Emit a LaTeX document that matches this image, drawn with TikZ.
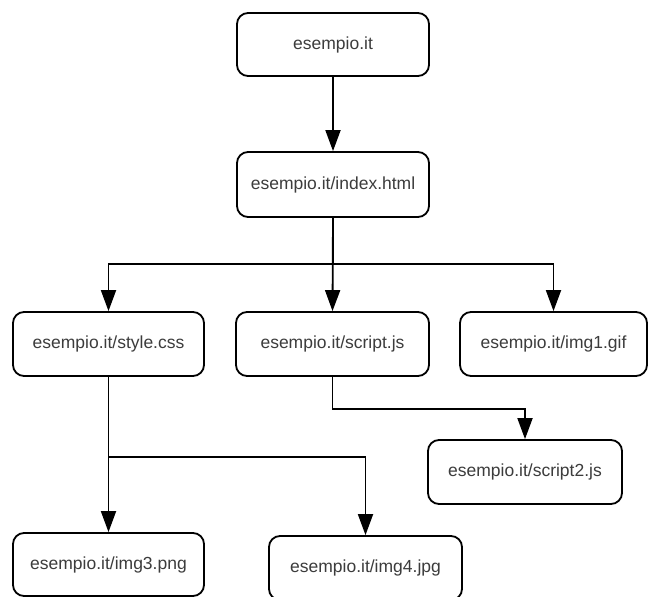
\documentclass[tikz,border=0pt]{standalone}
\usepackage{fontspec}
\setmainfont{Liberation Sans}
\usetikzlibrary{arrows.meta}
\definecolor{txt}{HTML}{3C3C3C}
\begin{document}
\begin{tikzpicture}[x=1pt,y=-1pt,
  page/.style={draw=black,line width=1.8pt,rounded corners=11pt,
    minimum height=64pt,text=txt,font=\fontsize{17.5}{20}\selectfont,
    inner sep=0pt},
  link/.style={line width=1.8pt,-{Triangle[length=21pt,width=15pt]}}]
\useasboundingbox (0,0) rectangle (648,597);
\fill[white] (0,0) rectangle (648,597);
% pages
\node[page,minimum width=192pt,minimum height=63pt] (root)   at (333,44.5)  {esempio.it};
\node[page,minimum width=192pt,minimum height=65pt] (index)  at (333,184.5) {esempio.it/index.html};
\node[page,minimum width=191pt] (style)  at (108.5,344) {esempio.it/style.css};
\node[page,minimum width=193pt] (script) at (332.5,344) {esempio.it/script.js};
\node[page,minimum width=187pt] (img1)   at (553.5,344) {esempio.it/img1.gif};
\node[page,minimum width=194pt] (script2) at (525,472) {esempio.it/script2.js};
\node[page,minimum width=191pt,minimum height=63pt] (img3) at (108.5,564.5) {esempio.it/img3.png};
\node[page,minimum width=193pt] (img4)   at (365.5,568) {esempio.it/img4.jpg};
% links
\draw[link] (root.south) -- (index.north);
\draw[link] (index.south) -- ++(0,46) -| (style.north);
\draw[link] (index.south) -- (script.north);
\draw[link] (index.south) -- ++(0,46) -| (img1.north);
\draw[link] (script.south) -- ++(0,32) -| (script2.north);
\draw[link] (style.south) -- (img3.north);
\draw[link] (style.south) -- ++(0,80) -| (img4.north);
\end{tikzpicture}
\end{document}
